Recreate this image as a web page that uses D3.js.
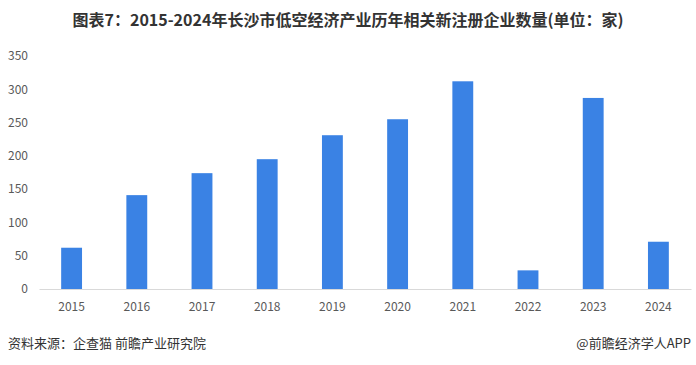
<!DOCTYPE html>
<html><head><meta charset="utf-8">
<script src="https://cdn.jsdelivr.net/npm/d3@7/dist/d3.min.js"></script>
<style>body{margin:0;background:#fff}svg{display:block}</style>
</head><body>
<svg id="c" width="696" height="365"></svg>
<script>
const years = ["2015","2016","2017","2018","2019","2020","2021","2022","2023","2024"];
const counts = [62, 141, 174, 195, 231, 255, 312, 28, 287, 71];
const yTicks = [0, 50, 100, 150, 200, 250, 300, 350];
const title = "图表7：2015-2024年长沙市低空经济产业历年相关新注册企业数量(单位：家)";
const source = "资料来源：企查猫 前瞻产业研究院";
const credit = "@前瞻经济学人APP";

const svg = d3.select("#c");
const font = "'Noto Sans CJK SC','Noto Sans',sans-serif";
const x = d3.scaleBand().domain(years).range([39, 691]).paddingInner(0.68).paddingOuter(0.34);
const y = d3.scaleLinear().domain([0, 350]).range([289, 56]);

svg.append("text").attr("x", 348).attr("y", 26).attr("text-anchor", "middle")
  .attr("font-family", font).attr("font-weight", "bold").attr("font-size", 16)
  .attr("fill", "#333").text(title);

const ya = svg.append("g").attr("transform", "translate(28,0)")
  .call(d3.axisLeft(y).tickValues(yTicks).tickSize(0).tickPadding(0));
ya.select(".domain").remove();
ya.selectAll("text").attr("font-family", font).attr("font-size", 12).attr("fill", "#595959");

svg.selectAll("rect.bar").data(years).join("rect").attr("class", "bar")
  .attr("x", d => x(d)).attr("width", x.bandwidth())
  .attr("y", (d, i) => y(counts[i])).attr("height", (d, i) => y(0) - y(counts[i]))
  .attr("fill", "#3a82e4");

const xa = svg.append("g").attr("transform", "translate(0,289)")
  .call(d3.axisBottom(x).tickSize(0).tickPadding(13));
xa.select(".domain").attr("stroke", "#d9d9d9");
xa.selectAll("text").attr("font-family", font).attr("font-size", 12).attr("fill", "#595959");

svg.append("text").attr("x", 8).attr("y", 348).attr("font-family", font)
  .attr("font-size", 13).attr("fill", "#333").text(source);
svg.append("text").attr("x", 691).attr("y", 348).attr("text-anchor", "end").attr("font-family", font)
  .attr("font-size", 13).attr("fill", "#333").text(credit);
</script>
</body></html>
